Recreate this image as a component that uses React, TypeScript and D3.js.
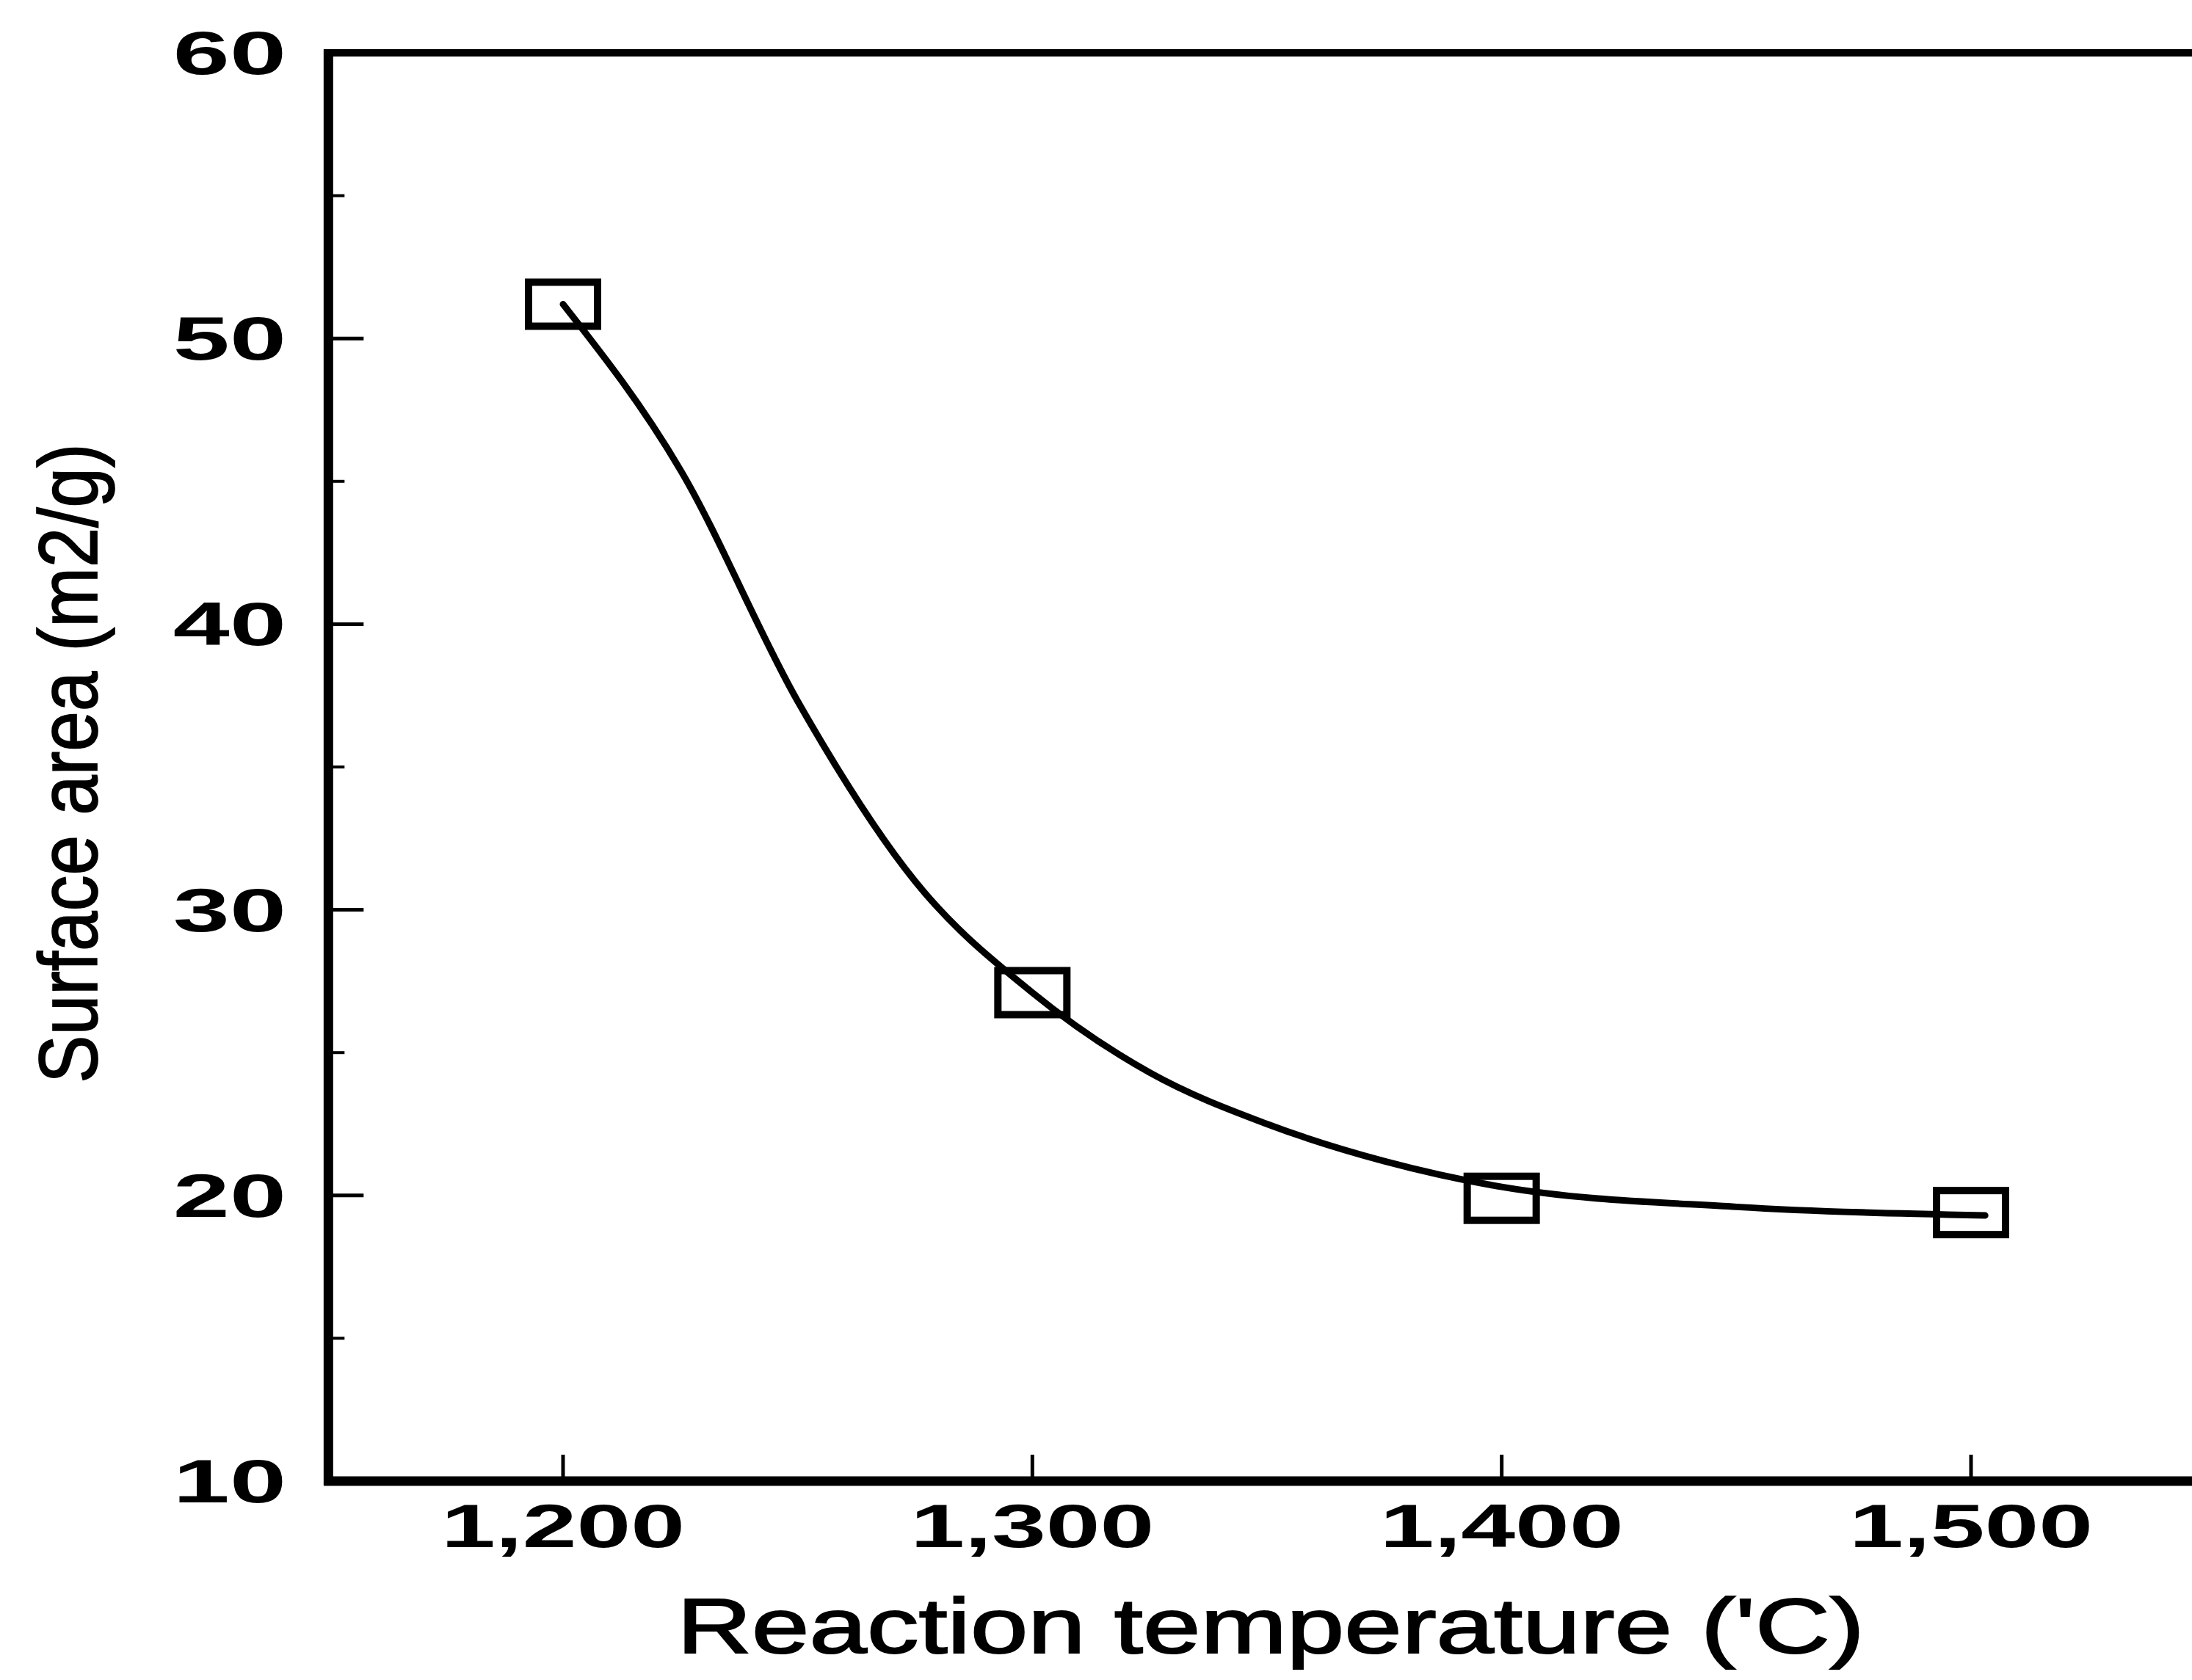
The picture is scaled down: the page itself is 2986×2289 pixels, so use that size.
import React, { useEffect, useRef } from 'react';
import * as d3 from 'd3';

// Measured data (marker positions)
const temperatures = [1200, 1300, 1400, 1500];
const surfaceAreas = [51.2, 27.1, 19.9, 19.4];

// Fitted smooth curve
const fitTemperatures = [1200, 1225, 1250, 1275, 1300, 1325, 1350, 1375, 1400, 1450, 1503];
const fitSurfaceAreas = [51.2, 45.4, 37.3, 31.0, 27.1, 24.3, 22.5, 21.2, 20.3, 19.6, 19.3];

const xTickValues = [1200, 1300, 1400, 1500];
const xTickLabels = ['1,200', '1,300', '1,400', '1,500'];
const yMajorTicks = [10, 20, 30, 40, 50, 60];
const yMinorTicks = [15, 25, 35, 45, 55];
const xDomain = [1150, 1550];
const yDomain = [10, 60];
const xTitle = "Reaction temperature ('C)";
const yTitle = 'Surface area (m2/g)';

const W = 2986;
const H = 2289;
const FONT = "'Liberation Sans', Arial, Helvetica, sans-serif";

export default function App() {
  const ref = useRef<SVGSVGElement>(null);

  useEffect(() => {
    const svg = d3.select(ref.current);
    svg.selectAll('*').remove();

    const x = d3.scaleLinear().domain([1200, 1500]).range([767, 2685]);
    const y = d3.scaleLinear().domain(yDomain).range([2018, 72]);
    const xl = x(xDomain[0]);
    const xr = x(xDomain[1]);
    const yb = y(yDomain[0]);
    const yt = y(yDomain[1]);

    svg.append('rect').attr('width', W).attr('height', H).attr('fill', '#fff');

    const g = svg.append('g');

    // frame
    g.append('line').attr('x1', xl).attr('x2', xr).attr('y1', yt).attr('y2', yt)
      .attr('stroke', '#000').attr('stroke-width', 10);
    g.append('line').attr('x1', xr).attr('x2', xr).attr('y1', yt).attr('y2', yb)
      .attr('stroke', '#000').attr('stroke-width', 10);
    g.append('line').attr('x1', xl - 6).attr('x2', xr).attr('y1', yb).attr('y2', yb)
      .attr('stroke', '#000').attr('stroke-width', 13);
    g.append('line').attr('x1', xl).attr('x2', xl).attr('y1', yt - 5).attr('y2', yb + 6)
      .attr('stroke', '#000').attr('stroke-width', 13);

    // y ticks
    g.selectAll('.ymaj').data(yMajorTicks).enter().append('line')
      .attr('x1', xl).attr('x2', xl + 48)
      .attr('y1', d => y(d)).attr('y2', d => y(d))
      .attr('stroke', '#000').attr('stroke-width', 5);
    g.selectAll('.ymin').data(yMinorTicks).enter().append('line')
      .attr('x1', xl).attr('x2', xl + 22)
      .attr('y1', d => y(d)).attr('y2', d => y(d))
      .attr('stroke', '#000').attr('stroke-width', 4);

    // x ticks
    g.selectAll('.xmaj').data(xTickValues).enter().append('line')
      .attr('x1', d => x(d)).attr('x2', d => x(d))
      .attr('y1', yb).attr('y2', yb - 36)
      .attr('stroke', '#000').attr('stroke-width', 5);

    // y tick labels
    g.selectAll('.ylab').data(yMajorTicks).enter().append('text')
      .attr('transform', d => `translate(390,${y(d) + 29}) scale(1.65,1)`)
      .attr('text-anchor', 'end')
      .attr('font-family', FONT).attr('font-weight', 'bold').attr('font-size', 84)
      .attr('fill', '#000')
      .text(d => String(d));

    // x tick labels
    g.selectAll('.xlab').data(xTickValues).enter().append('text')
      .attr('transform', d => `translate(${x(d)},2108) scale(1.58,1)`)
      .attr('text-anchor', 'middle')
      .attr('font-family', FONT).attr('font-weight', 'bold').attr('font-size', 84)
      .attr('fill', '#000')
      .text((d, i) => xTickLabels[i]);

    // fitted curve
    const line = d3.line<number>()
      .x((d, i) => x(fitTemperatures[i]))
      .y(d => y(d))
      .curve(d3.curveMonotoneX);
    g.append('path').attr('d', line(fitSurfaceAreas) as string)
      .attr('fill', 'none').attr('stroke', '#000').attr('stroke-width', 9)
      .attr('stroke-linecap', 'round');

    // markers
    g.selectAll('.mk').data(surfaceAreas).enter().append('rect')
      .attr('x', (d, i) => x(temperatures[i]) - 47)
      .attr('y', d => y(d) - 30)
      .attr('width', 94).attr('height', 60)
      .attr('fill', 'none').attr('stroke', '#000').attr('stroke-width', 10);

    // axis titles
    g.append('text')
      .attr('transform', `translate(1731,2252) scale(1.33,1)`)
      .attr('text-anchor', 'middle')
      .attr('font-family', FONT).attr('font-size', 106)
      .attr('fill', '#000').attr('stroke', '#000').attr('stroke-width', 2)
      .text(xTitle);

    g.append('text')
      .attr('transform', `translate(132,1040) scale(1.15,1) rotate(-90)`)
      .attr('text-anchor', 'middle')
      .attr('font-family', FONT).attr('font-size', 98)
      .attr('fill', '#000').attr('stroke', '#000').attr('stroke-width', 1.5)
      .text(yTitle);
  }, []);

  return (
    <svg
      ref={ref}
      width={W}
      height={H}
      style={{ position: 'absolute', left: 0, top: 0, display: 'block' }}
    />
  );
}
